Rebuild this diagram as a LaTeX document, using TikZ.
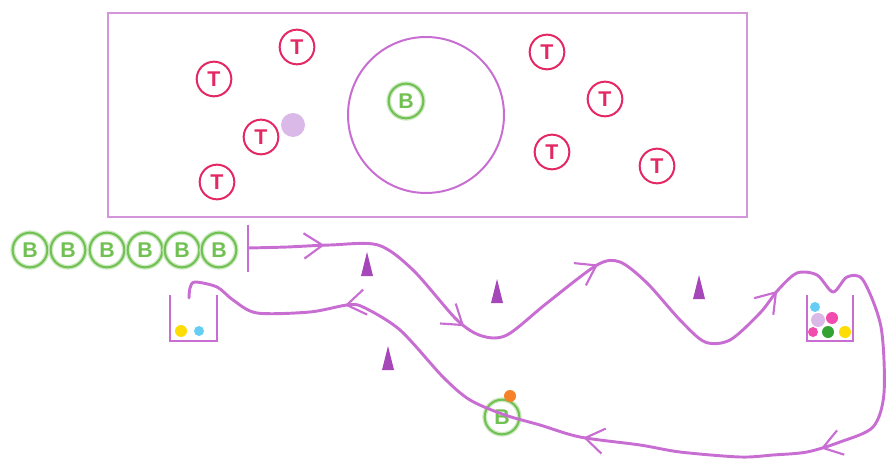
\documentclass[tikz,border=0pt]{standalone}
\usepackage{fontspec}
\setsansfont{Liberation Sans}
\usetikzlibrary{arrows.meta, decorations.markings}
\definecolor{trackcol}{RGB}{200,110,210}
\definecolor{framecol}{RGB}{212,150,218}
\definecolor{tcol}{RGB}{228,40,100}
\definecolor{bcol}{RGB}{112,192,82}
\definecolor{conecol}{RGB}{165,70,185}
\definecolor{lilac}{RGB}{218,185,232}
\definecolor{dotorange}{RGB}{245,130,40}
\tikzset{barb/.tip={Straight Barb[length=14pt, width=19pt, line width=1.6pt]}}

\begin{document}
\begin{tikzpicture}[x=0.75pt, y=-0.75pt,
  tball/.style={circle, draw=tcol, line width=1.5pt, text=tcol, minimum size=26pt,
    inner sep=0pt, font=\sffamily\bfseries\fontsize{16}{16}\selectfont},
  bball/.style={circle, draw=bcol, line width=1.5pt, text=bcol, minimum size=26pt,
    inner sep=0pt, font=\sffamily\bfseries\fontsize{16}{16}\selectfont,
    preaction={draw=bcol!35, line width=3.5pt}},
  track/.style={draw=trackcol, line width=2.2pt, line cap=round, line join=round},
  beaker/.style={draw=trackcol, line width=1.6pt},
  cone/.style={fill=conecol}]
  \useasboundingbox (0,0) rectangle (887,459);

  % Frame and target area
  \draw[framecol, line width=2pt] (108,13) rectangle (747,217);
  \draw[trackcol, line width=1.5pt] (426,115) circle [radius=78];
  \node[bball] (bin) at (406,101) {B};

  % T balls
  \node[tball] (t1) at (297,47) {T};
  \node[tball] (t2) at (214,79) {T};
  \node[tball] (t3) at (261,137) {T};
  \node[tball] (t4) at (217,182) {T};
  \node[tball] (t5) at (547,52) {T};
  \node[tball] (t6) at (605,99) {T};
  \node[tball] (t7) at (552,152) {T};
  \node[tball] (t8) at (657,166) {T};
  \fill[lilac] (293,125) circle [radius=12];

  % Row of waiting B balls
  \foreach \i/\x in {1/30,2/68,3/107,4/145,5/182,6/219}
    \node[bball] (b\i) at (\x,250) {B};
  \draw[trackcol, line width=1.8pt] (248,225) -- (248,272);
  \coordinate (start) at (248,248);
  \coordinate (finish) at (189,298);

  % B ball on the track
  \node[bball] (bon) at (502,417) {B};
  \fill[dotorange] (510,396) circle [radius=6];

  % Track
  \draw[track, postaction={decorate}, decoration={markings,
      mark=at position 0.046 with {\arrow{barb}},
      mark=at position 0.150 with {\arrow{barb}},
      mark=at position 0.247 with {\arrow{barb}},
      mark=at position 0.388 with {\arrow{barb}},
      mark=at position 0.580 with {\arrow{barb}},
      mark=at position 0.724 with {\arrow{barb}},
      mark=at position 0.893 with {\arrow{barb}}}]
    plot[smooth, tension=0.5] coordinates {(start) (287,247) (330,245) (378,245)
      (413,270) (457,320) (482,336) (507,335) (547,303) (597,265) (620,262)
      (647,283) (680,320) (705,342) (730,340) (760,313) (778,290) (797,273)
      (817,275) (833,292) (847,277) (863,280) (881,327) (884,393) (873,427)
      (840,442) (807,452) (773,455) (740,457) (680,452) (640,445) (580,437)
      (540,425) (505,415) (470,400) (443,377) (400,330) (363,307) (347,305)
      (310,312) (257,313) (233,300) (217,287) (195,282) (190,288) (finish)};

  % Cones
  \foreach \x/\y in {367/264, 497/291, 699/287, 388/358}
    \fill[cone] (\x-6,\y+12) -- (\x,\y-12) -- (\x+6,\y+12) -- cycle;

  % Beakers
  \draw[beaker] (170,295) -- (170,341) -- (217,341) -- (217,295);
  \fill[yellow!80!orange] (181,331) circle [radius=6];
  \fill[cyan!60] (199,331) circle [radius=5];
  \draw[beaker] (807,295) -- (807,341) -- (853,341) -- (853,295);
  \fill[cyan!60] (815,307) circle [radius=5];
  \fill[lilac] (818,320) circle [radius=7];
  \fill[magenta!70] (832,318) circle [radius=6];
  \fill[magenta!70] (813,332) circle [radius=5];
  \fill[green!55!black!80] (828,332) circle [radius=6];
  \fill[yellow!80!orange] (845,332) circle [radius=6];
\end{tikzpicture}
\end{document}
